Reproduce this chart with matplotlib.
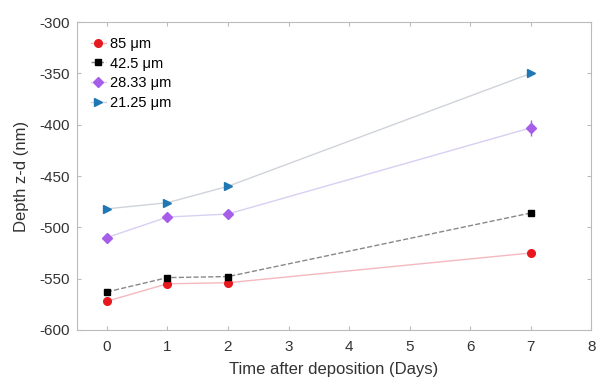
import matplotlib
matplotlib.use("Agg")
import matplotlib.pyplot as plt

# ================= DATA =================
days = [0, 1, 2, 7]
labels = ["85 μm", "42.5 μm", "28.33 μm", "21.25 μm"]

depth_85 = [-572, -555, -554, -525]
depth_42 = [-563, -549, -548, -486]
depth_28 = [-510, -490, -487, -403]
depth_21 = [-482, -476, -460, -350]

err_85 = [3, 3, 3, 3]
err_42 = [2, 2, 2, 2]
err_28 = [3, 4, 3, 8]
err_21 = [2, 2, 2, 2]

x_ticks = [0, 1, 2, 3, 4, 5, 6, 7, 8]
y_ticks = [-600, -550, -500, -450, -400, -350, -300]

# ================= STYLE =================
plt.rcParams["font.family"] = ["Liberation Sans", "DejaVu Sans"]
plt.rcParams["axes.unicode_minus"] = False

fig = plt.figure(figsize=(5.98, 3.81), dpi=100)
ax = fig.add_axes([0.128, 0.134, 0.861, 0.808])

series = [
    (depth_85, err_85, "o", "#e8191e", "#f4b8bf", "-", 5.5),
    (depth_42, err_42, "s", "#000000", "#888888", "--", 5),
    (depth_28, err_28, "D", "#a65ee8", "#d9cff2", "-", 5),
    (depth_21, err_21, ">", "#1f78b4", "#cfd3da", "-", 6),
]

for (vals, errs, mk, col, lcol, ls, ms), lab in zip(series, labels):
    ax.plot(days, vals, ls, color=lcol, lw=1.0, zorder=1)
    ax.errorbar(days, vals, yerr=errs, fmt=mk, color=col, ms=ms,
                ecolor=col, elinewidth=1, capsize=0, zorder=3)

# legend handles (marker + short line)
handles = []
for (vals, errs, mk, col, lcol, ls, ms), lab in zip(series, labels):
    h, = ax.plot([], [], ls, marker=mk, color=lcol, mfc=col, mec=col,
                 ms=ms, lw=1.0, label=lab)
    handles.append(h)
ax.legend(handles=handles, loc="upper left", frameon=False, fontsize=10.5,
          handlelength=1.0, handletextpad=0.3, labelspacing=0.4,
          borderaxespad=0.5, borderpad=0.5)

ax.set_xlim(-0.5, 8)
ax.set_ylim(-600, -300)
ax.set_xticks(x_ticks)
ax.set_yticks(y_ticks)
ax.tick_params(direction="in", length=3, colors="#bbbbbb", labelcolor="#333333",
               labelsize=11, top=True, right=True)
ax.tick_params(axis="x", pad=7)
ax.tick_params(axis="y", pad=5)
for sp in ax.spines.values():
    sp.set_color("#bbbbbb")
    sp.set_linewidth(0.8)

ax.set_xlabel("Time after deposition (Days)", fontsize=12, color="#333333", labelpad=6)
ax.set_ylabel("Depth z-d (nm)", fontsize=12, color="#333333", labelpad=7)

fig.savefig("out.png", dpi=100)
